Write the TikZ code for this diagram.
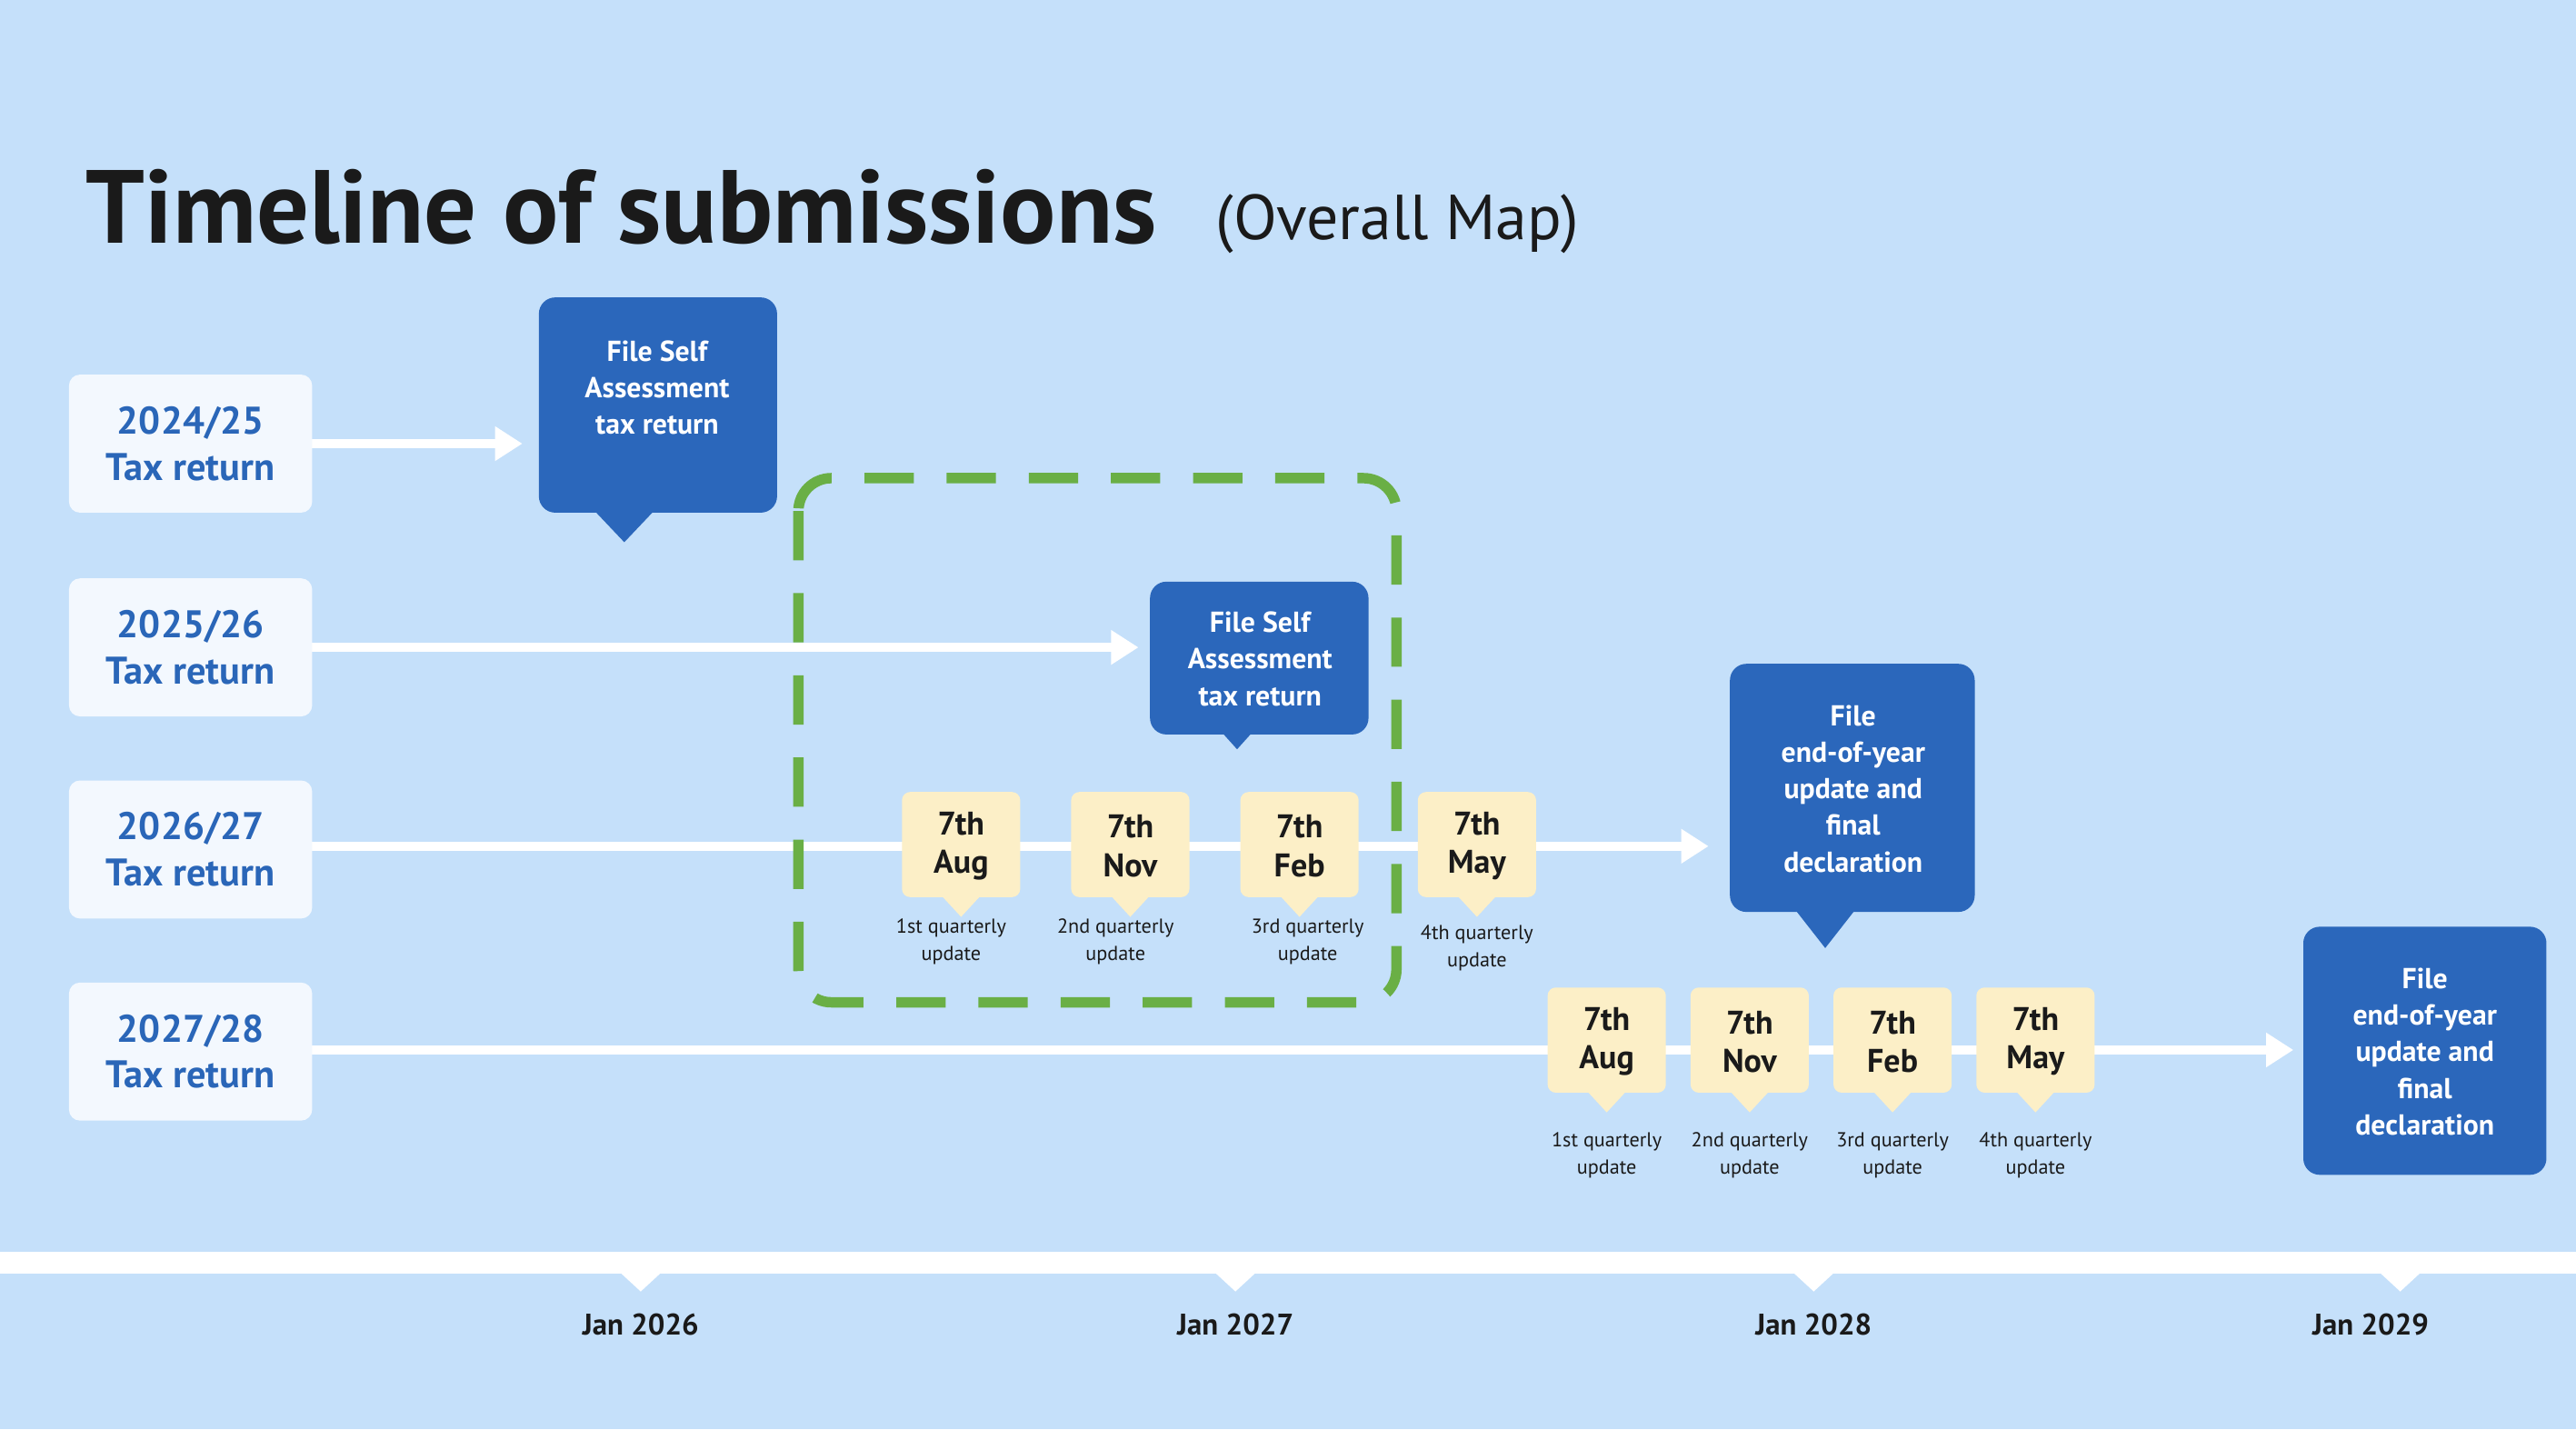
\documentclass[tikz,border=0pt]{standalone}
\usepackage{fontspec}
\setmainfont{PT Sans}
\usetikzlibrary{arrows.meta}
\definecolor{bg}{HTML}{C5E0FA}
\definecolor{yr}{HTML}{F3F8FE}
\definecolor{yt}{HTML}{2A66B8}
\definecolor{bb}{HTML}{2B67BB}
\definecolor{ye}{HTML}{FCEFC7}
\definecolor{gr}{HTML}{6AAF45}
\definecolor{tx}{HTML}{1A1A1A}
\begin{document}
\begin{tikzpicture}[x=0.3mm,y=-0.3mm,
 yearbox/.style={fill=yr,rounded corners=2mm,inner sep=0},
 yeartext/.style={text=yt,font=\fontsize{20}{24}\selectfont\bfseries,align=center},
 arr/.style={white,line width=1.6mm,-{Triangle[length=5mm,width=6mm]}},
 bluetext/.style={text=white,font=\fontsize{15}{19}\selectfont\bfseries,align=center},
 yelltext/.style={text=tx,font=\fontsize{17}{20}\selectfont\bfseries,align=center},
 small/.style={text=tx,font=\fontsize{10.5}{14}\selectfont,align=center},
 month/.style={text=tx,font=\fontsize{15.5}{18}\selectfont\bfseries}]
\fill[bg] (0,0) rectangle (1568,870);
\useasboundingbox (0,0) rectangle (1568,870);
\node[anchor=base west,text=tx,inner sep=0] (title) at (52,148) {\fontsize{54}{60}\selectfont\bfseries Timeline of submissions};
\node[anchor=base west,text=tx,inner sep=0] (sub) at (740,146) {\fontsize{33}{40}\selectfont (Overall Map)};
% arrows
\coordinate (e1) at (318,270); \coordinate (e2) at (693,394);
\coordinate (e3) at (1040,515); \coordinate (e4) at (1396,639);
\coordinate (s1) at (190,270); \coordinate (s2) at (190,394);
\coordinate (s3) at (190,515); \coordinate (s4) at (190,639);
\draw[arr] (s1) -- (e1);
\draw[arr] (s2) -- (e2);
\draw[arr] (s3) -- (e3);
\draw[arr] (s4) -- (e4);
% year boxes
\foreach \n/\y/\t in {y1/228/{2024/25},y2/352/{2025/26},y3/475/{2026/27},y4/598/{2027/28}}{
 \fill[yearbox] (42,\y) rectangle (190,\y+84);
 \node[yeartext] (\n) at (116,\y+42) {\t\\Tax return};
}
% green dashed
\draw[gr,line width=1.9mm,dash pattern=on 9mm off 6mm,rounded corners=6mm] (486,291) rectangle (850,610);
% blue callouts
\fill[bb,rounded corners=3mm] (328,181) rectangle (473,312);
\fill[bb] (362,311) -- (398,311) -- (380,330) -- cycle;
\node[bluetext] (b1) at (400,236) {File Self\\Assessment\\tax return};
\fill[bb,rounded corners=3mm] (700,354) rectangle (833,447);
\fill[bb] (744,446) -- (762,446) -- (753,456) -- cycle;
\node[bluetext] (b2) at (767,401) {File Self\\Assessment\\tax return};
\fill[bb,rounded corners=3mm] (1053,404) rectangle (1202,555);
\fill[bb] (1093,554) -- (1129,554) -- (1111,577) -- cycle;
\node[bluetext] (b3) at (1128,480) {File\\end-of-year\\update and\\final\\declaration};
\fill[bb,rounded corners=3mm] (1402,564) rectangle (1550,715);
\node[bluetext] (b4) at (1476,640) {File\\end-of-year\\update and\\final\\declaration};
% yellow boxes
\foreach \n/\x/\yt/\m in {q1/585/482/Aug, q2/688/482/Nov, q3/791/482/Feb, q4/899/482/May,
  r1/978/601/Aug, r2/1065/601/Nov, r3/1152/601/Feb, r4/1239/601/May}{
 \fill[ye,rounded corners=1.5mm] (\x-36,\yt) rectangle (\x+36,\yt+64);
 \fill[ye] (\x-12,\yt+63) -- (\x+12,\yt+63) -- (\x,\yt+76) -- cycle;
 \node[yelltext] (\n) at (\x,\yt+33) {7th\\\m};
}
\node[small] (l1) at (579,573) {1st quarterly\\update};
\node[small] (l2) at (679,573) {2nd quarterly\\update};
\node[small] (l3) at (796,573) {3rd quarterly\\update};
\node[small] (l4) at (899,577) {4th quarterly\\update};
\node[small] (m1) at (978,703) {1st quarterly\\update};
\node[small] (m2) at (1065,703) {2nd quarterly\\update};
\node[small] (m3) at (1152,703) {3rd quarterly\\update};
\node[small] (m4) at (1239,703) {4th quarterly\\update};
% bottom band
\fill[white] (0,762) rectangle (1568,775);
\foreach \n/\x/\lx/\t in {j1/390/390/Jan 2026,j2/752/752/Jan 2027,j3/1104/1104/Jan 2028,j4/1461/1443/Jan 2029}{
 \fill[white] (\x-13,774) -- (\x+13,774) -- (\x,786) -- cycle;
 \node[month] (\n) at (\lx,806) {\t};
}
\end{tikzpicture}
\end{document}
